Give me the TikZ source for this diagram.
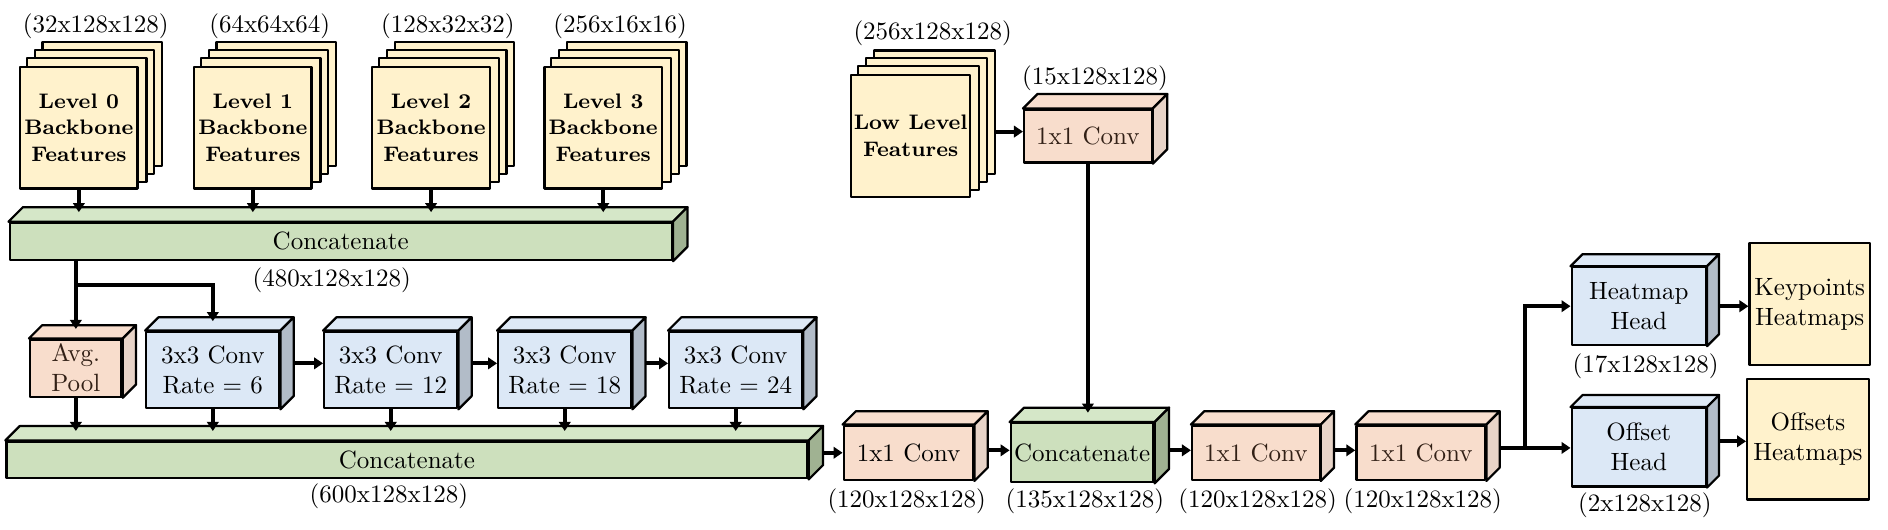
\documentclass[tikz,border=0pt]{standalone}
\usetikzlibrary{arrows.meta,backgrounds}
\definecolor{featY}{RGB}{255,242,204}
\definecolor{grnF}{RGB}{205,224,189}
\definecolor{grnT}{RGB}{213,231,200}
\definecolor{grnS}{RGB}{160,178,146}
\definecolor{bluF}{RGB}{220,232,246}
\definecolor{bluT}{RGB}{222,233,246}
\definecolor{bluS}{RGB}{178,188,200}
\definecolor{orgF}{RGB}{248,221,204}
\definecolor{orgT}{RGB}{248,222,206}
\definecolor{orgS}{RGB}{232,212,200}
\definecolor{txtB}{RGB}{50,32,22}
\newcommand{\upx}{0.4816pt}
\tikzset{
  boxline/.style={draw=black, line width=0.9pt, line join=round},
  front/.style={boxline, inner sep=0pt, align=center, font=\normalsize},
  feat/.style={front, fill=featY, font=\bfseries\fontsize{8.4}{10.6}\selectfont},
  sz/.style 2 args={minimum width=#1*\upx, minimum height=#2*\upx},
  arr/.style={line width=1.6pt, -{Triangle[length=3.6pt,width=4.6pt]}},
  plainline/.style={line width=1.6pt},
  lbl/.style={inner sep=0pt, font=\normalsize},
}
\newcommand{\cubeit}[4]{%
  \draw[boxline, fill=#2] (#1.north west) -- ++(#4,-#4) -- ([shift={(#4,-#4)}]#1.north east) -- (#1.north east) -- cycle;
  \draw[boxline, fill=#3] (#1.north east) -- ++(#4,-#4) -- ([shift={(#4,-#4)}]#1.south east) -- (#1.south east) -- cycle;
}
\newcommand{\stackit}[1]{%
  \begin{scope}[on background layer]
    \foreach \k in {3,2,1}{
      \draw[boxline, fill=featY] ([shift={(6.5*\k,-6.5*\k)}]#1.south west) rectangle ([shift={(6.5*\k,-6.5*\k)}]#1.north east);
    }
  \end{scope}}
\begin{document}
\begin{tikzpicture}[x=0.4816pt, y=-0.4816pt]
\useasboundingbox (0,0) rectangle (1568,440);

% ---- backbone feature stacks
\node[feat, sz={97.5}{101}] (L0) at (65.5,106) {Level 0\\Backbone\\Features};
\node[feat, sz={97.5}{101}] (L1) at (210,106) {Level 1\\Backbone\\Features};
\node[feat, sz={97.5}{101}] (L2) at (358,106) {Level 2\\Backbone\\Features};
\node[feat, sz={97.5}{101}] (L3) at (501,106) {Level 3\\Backbone\\Features};
\stackit{L0}\stackit{L1}\stackit{L2}\stackit{L3}
\node[lbl] (t0) at (79.5,22) {(32x128x128)};
\node[lbl] (t1) at (224,22) {(64x64x64)};
\node[lbl] (t2) at (372,22) {(128x32x32)};
\node[lbl] (t3) at (515,22) {(256x16x16)};

% ---- first concatenate
\node[front, fill=grnF, sz={550}{31}] (B1) at (283,200.5) {Concatenate};
\cubeit{B1}{grnT}{grnS}{12}
\node[lbl] (t480) at (275.5,233) {(480x128x128)};

% ---- ASPP row
\node[front, fill=orgF, sz={76}{47.4}, text=txtB] (pool) at (63,305.7) {Avg.\\Pool};
\cubeit{pool}{orgT}{orgS}{11}
\node[front, fill=bluF, sz={110.5}{63.5}] (c6) at (176.75,307.25) {3x3 Conv\\Rate $=$ 6};
\cubeit{c6}{bluT}{bluS}{11}
\node[front, fill=bluF, sz={110.5}{63.5}] (c12) at (324.5,307.25) {3x3 Conv\\Rate $=$ 12};
\cubeit{c12}{bluT}{bluS}{11}
\node[front, fill=bluF, sz={110.5}{63.5}] (c18) at (469,307.25) {3x3 Conv\\Rate $=$ 18};
\cubeit{c18}{bluT}{bluS}{11}
\node[front, fill=bluF, sz={110.5}{63.5}] (c24) at (611,307.25) {3x3 Conv\\Rate $=$ 24};
\cubeit{c24}{bluT}{bluS}{11}

% ---- second concatenate
\node[front, fill=grnF, sz={665.3}{30.5}] (B2) at (338,382) {Concatenate};
\cubeit{B2}{grnT}{grnS}{12}
\node[lbl] (t600) at (323,412.5) {(600x128x128)};

% ---- low level branch
\node[feat, sz={98.6}{101}] (ll) at (756.3,112.8) {Low Level\\Features};
\stackit{ll}
\node[lbl] (tll) at (774.6,27.7) {(256x128x128)};
\node[front, fill=orgF, sz={106}{44}, text=txtB] (c0) at (903.5,113) {1x1 Conv};
\cubeit{c0}{orgT}{orgS}{12}
\node[lbl] (tc0) at (909.4,65) {(15x128x128)};

% ---- decoder row
\node[front, fill=orgF, sz={107.6}{45}] (c1) at (754.5,376) {1x1 Conv};
\cubeit{c1}{orgT}{orgS}{11}
\node[front, fill=grnF, sz={118.6}{49}] (cc) at (898.7,376) {Concatenate};
\cubeit{cc}{grnT}{grnS}{12}
\node[front, fill=orgF, sz={106}{45}, text=txtB] (c2) at (1043,376) {1x1 Conv};
\cubeit{c2}{orgT}{orgS}{11}
\node[front, fill=orgF, sz={107}{45}, text=txtB] (c3) at (1180,376) {1x1 Conv};
\cubeit{c3}{orgT}{orgS}{11}
\node[lbl] (tc1) at (753,416.6) {(120x128x128)};
\node[lbl] (tcc) at (901,416.6) {(135x128x128)};
\node[lbl] (tc2) at (1044.4,416.6) {(120x128x128)};
\node[lbl] (tc3) at (1181.6,416.6) {(120x128x128)};

% ---- heads
\node[front, fill=bluF, sz={111.5}{64.5}] (hh) at (1361,254.3) {Heatmap\\Head};
\cubeit{hh}{bluT}{bluS}{10}
\node[front, fill=bluF, sz={111.5}{65}] (oh) at (1361,371.5) {Offset\\Head};
\cubeit{oh}{bluT}{bluS}{10}
\node[lbl] (thh) at (1366.7,304.5) {(17x128x128)};
\node[lbl] (toh) at (1366,419.4) {(2x128x128)};
\node[front, fill=featY, sz={100}{101}] (kh) at (1503,252.5) {Keypoints\\Heatmaps};
\node[front, fill=featY, sz={101}{100}] (oo) at (1501.5,364.8) {Offsets\\Heatmaps};

% ---- connectors
\foreach \n in {L0,L1,L2,L3} \draw[arr] (\n.south) -- ([yshift=3.8pt]\n.south |- B1.north);
\coordinate (br) at (pool.north |- 0,237);
\draw[plainline] (B1.south -| pool.north) -- (br);
\draw[arr] (br) -- ([yshift=3.8pt]pool.north);
\draw[arr] (br) -| ([yshift=3.8pt]c6.north);
\draw[arr] ([shift={(11,-5.5)}]c6.east) -- ([shift={(0,-5.5)}]c12.west);
\draw[arr] ([shift={(11,-5.5)}]c12.east) -- ([shift={(0,-5.5)}]c18.west);
\draw[arr] ([shift={(11,-5.5)}]c18.east) -- ([shift={(0,-5.5)}]c24.west);
\foreach \n in {pool,c6,c12,c18,c24} \draw[arr] (\n.south) -- ([yshift=3.8pt]\n.south |- B2.north);
\draw[arr] ([shift={(12,-6)}]B2.east) -- (c1.west);
\draw[arr] ([shift={(11,-2)}]c1.east) -- ([shift={(0,-2)}]cc.west);
\draw[arr] ([shift={(12,-2)}]cc.east) -- ([shift={(0,-2)}]c2.west);
\draw[arr] ([shift={(11,-2)}]c2.east) -- ([shift={(0,-2)}]c3.west);
\draw[arr] ([shift={(19.5,-3.5)}]ll.east) coordinate (l1) -- (c0.west |- l1);
\draw[arr] (c0.south) -- ([yshift=3.8pt]c0.south |- cc.north);
\coordinate (jn) at (1266.5,372);
\draw[plainline] ([shift={(11,-4)}]c3.east) -- (jn);
\draw[arr] (jn) -- (oh.west |- jn);
\draw[arr] (jn) |- (hh.west);
\draw[arr] ([shift={(10,0)}]hh.east) coordinate (h1) -- (kh.west |- h1);
\draw[arr] ([shift={(10,-5)}]oh.east) coordinate (o1) -- (oo.west |- o1);
\end{tikzpicture}
\end{document}
